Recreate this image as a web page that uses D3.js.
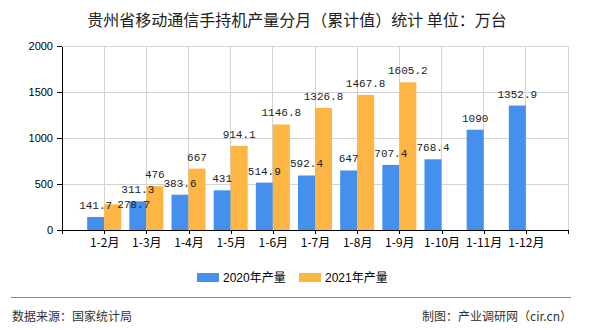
<!DOCTYPE html>
<html>
<head>
<meta charset="utf-8">
<script src="https://cdn.jsdelivr.net/npm/d3@7"></script>
<style>
  html, body { margin: 0; padding: 0; background: #fff; }
  svg { display: block; }
</style>
</head>
<body>
<svg id="chart" width="590" height="330"></svg>
<script>
const categories = ["1-2月","1-3月","1-4月","1-5月","1-6月","1-7月","1-8月","1-9月","1-10月","1-11月","1-12月"];
const values2020 = [141.7, 311.3, 383.6, 431, 514.9, 592.4, 647, 707.4, 768.4, 1090, 1352.9];
const values2021 = [278.7, 476, 667, 914.1, 1146.8, 1326.8, 1467.8, 1605.2, null, null, null];
const yTicks = [0, 500, 1000, 1500, 2000];
const seriesNames = ["2020年产量", "2021年产量"];
const titleText = "贵州省移动通信手持机产量分月（累计值）统计 单位：万台";
const sourceText = "数据来源：国家统计局";
const creditText = "制图：产业调研网（cir.cn）";

(function () {
const colors = ["#4590ed", "#fdb543"];
const svg = d3.select("#chart");
const pLeft = 62, pRight = 568, pTop = 46, pBottom = 230;

const x = d3.scalePoint().domain(categories).range([pLeft, pRight]).padding(1);
const y = d3.scaleLinear().domain([0, 2000]).range([pBottom, pTop]);
const barW = 17;

// title
svg.append("text").attr("x", 297).attr("y", 26).attr("text-anchor", "middle")
  .attr("font-family", "'Noto Sans CJK SC', sans-serif").attr("font-size", 16)
  .attr("fill", "#222").text(titleText);

// grid
const grid = svg.append("g");
yTicks.filter(t => t > 0).forEach(t => {
  grid.append("line").attr("x1", pLeft).attr("x2", pRight).attr("y1", y(t)).attr("y2", y(t))
    .attr("stroke", "#d3d3d3").attr("stroke-width", 1).attr("shape-rendering", "crispEdges");
});
categories.forEach(c => {
  grid.append("line").attr("x1", x(c)).attr("x2", x(c)).attr("y1", pTop).attr("y2", pBottom)
    .attr("stroke", "#d3d3d3").attr("stroke-width", 1).attr("shape-rendering", "crispEdges");
});
grid.append("line").attr("x1", pRight).attr("x2", pRight).attr("y1", pTop).attr("y2", pBottom)
  .attr("stroke", "#d3d3d3").attr("stroke-width", 1).attr("shape-rendering", "crispEdges");

// bars
const series = [values2020, values2021];
series.forEach((vals, si) => {
  const g = svg.append("g");
  categories.forEach((c, i) => {
    const v = vals[i];
    if (v == null) return;
    const bx = si === 0 ? x(c) - barW : x(c);
    g.append("rect").attr("x", bx).attr("y", y(v)).attr("width", barW)
      .attr("height", y(0) - y(v)).attr("fill", colors[si]);
  });
});

// value labels
series.forEach((vals, si) => {
  const g = svg.append("g");
  categories.forEach((c, i) => {
    const v = vals[i];
    if (v == null) return;
    let cx = si === 0 ? x(c) - barW / 2 : x(c) + barW / 2;
    let ly = y(v) - 8;
    // overlap avoidance (as in the original): first 2021 label pushed aside
    if (si === 1 && i === 0) { cx += 21; ly += 12; }
    g.append("text").attr("x", cx).attr("y", ly).attr("text-anchor", "middle")
      .attr("font-family", "'Liberation Mono', monospace").attr("font-size", 11)
      .attr("fill", "#222").text(String(v));
  });
});

// axes
const yAxis = d3.axisLeft(y).tickValues(yTicks).tickSize(5).tickSizeOuter(0).tickFormat(d3.format("d"));
const gy = svg.append("g").attr("transform", `translate(${pLeft},0)`).call(yAxis);
gy.select(".domain").attr("stroke", "#000").attr("shape-rendering", "crispEdges");
gy.selectAll(".tick line").attr("stroke", "#000").attr("shape-rendering", "crispEdges");
gy.selectAll("text").attr("font-family", "'Liberation Sans', Arial, sans-serif")
  .attr("font-size", 11).attr("fill", "#000").attr("x", -9);

const xAxis = d3.axisBottom(x).tickSize(4).tickSizeOuter(4);
const gx = svg.append("g").attr("transform", `translate(0,${pBottom})`).call(xAxis);
gx.select(".domain").attr("stroke", "#000").attr("shape-rendering", "crispEdges");
gx.selectAll(".tick line").attr("stroke", "#000").attr("shape-rendering", "crispEdges");
gx.selectAll("text").attr("font-family", "'Noto Sans CJK SC', sans-serif")
  .attr("font-size", 12).attr("fill", "#000").attr("dy", "0").attr("y", 17);

// legend
const legendX = [197, 299];
seriesNames.forEach((n, i) => {
  svg.append("rect").attr("x", legendX[i]).attr("y", 273).attr("width", 22).attr("height", 9)
    .attr("fill", colors[i]);
  svg.append("text").attr("x", legendX[i] + 26).attr("y", 282)
    .attr("font-family", "'Liberation Sans', 'Noto Sans CJK SC', sans-serif").attr("font-size", 12)
    .attr("fill", "#000").text(n);
});

// separator & footer
svg.append("line").attr("x1", 11).attr("x2", 571).attr("y1", 297.5).attr("y2", 297.5)
  .attr("stroke", "#888").attr("stroke-width", 1);
svg.append("text").attr("x", 12).attr("y", 321)
  .attr("font-family", "'Noto Sans CJK SC', sans-serif").attr("font-size", 12)
  .attr("fill", "#333").text(sourceText);
svg.append("text").attr("x", 572).attr("y", 321).attr("text-anchor", "end")
  .attr("font-family", "'Noto Sans CJK SC', sans-serif").attr("font-size", 12)
  .attr("fill", "#333").text(creditText);
})();
</script>
</body>
</html>
